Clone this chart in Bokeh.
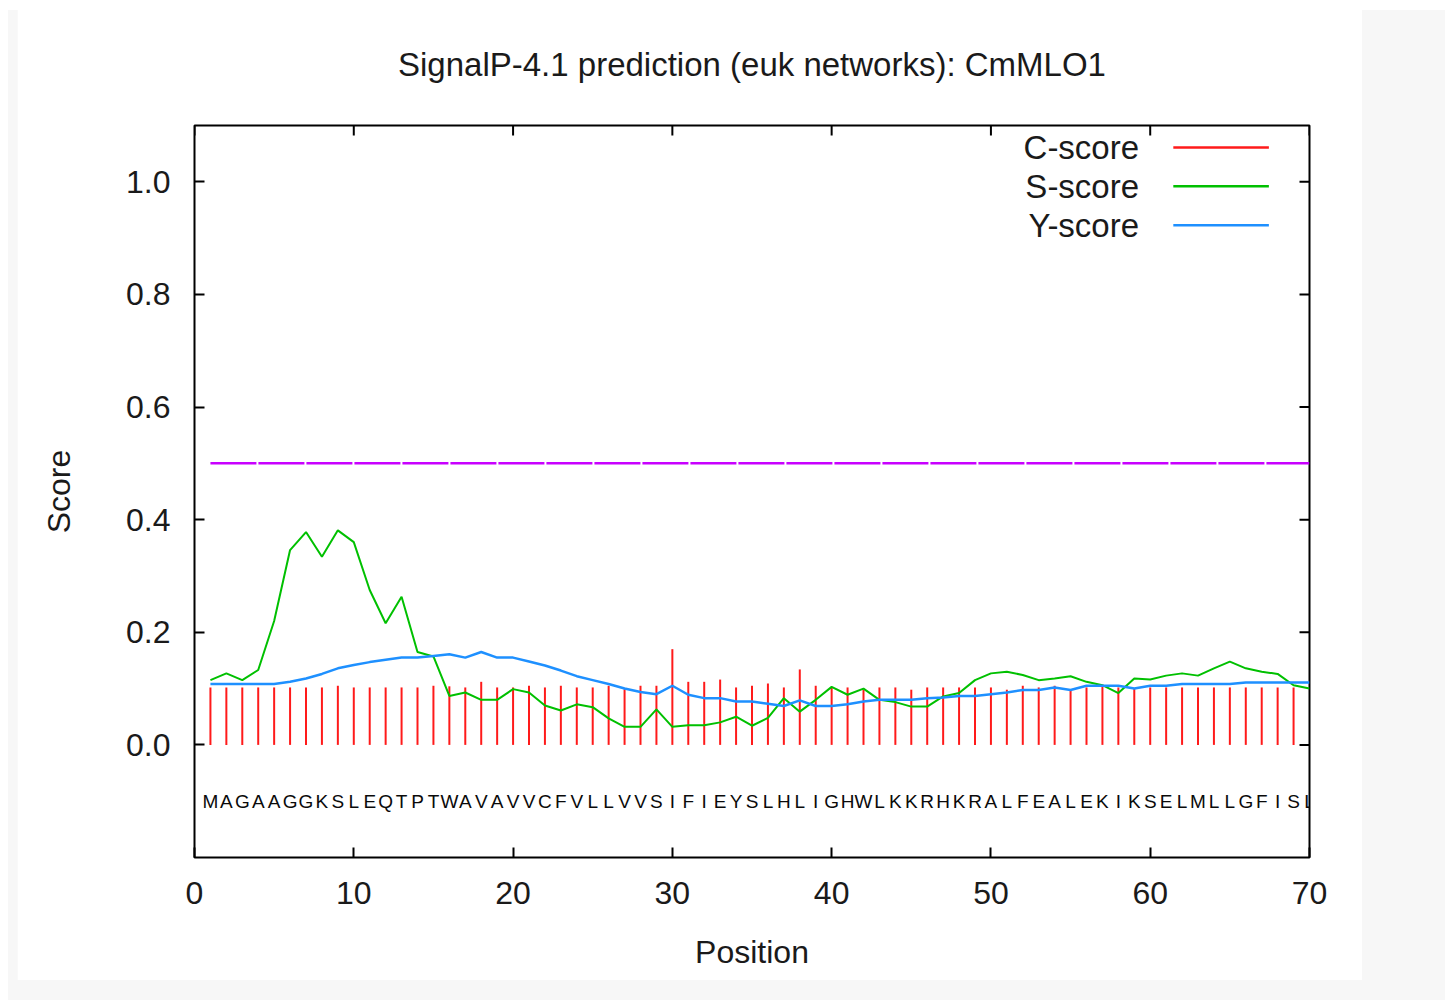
from bokeh.plotting import figure
from bokeh.models import LinearAxis, FixedTicker, PrintfTickFormatter, Range1d
from bokeh.embed import file_html
from bokeh.resources import INLINE

# ---------------- data ----------------
sequence = "MAGAAGGKSLEQTPTWAVAVVCFVLLVVSIFIEYSLHLIGHWLKKRHKRALFEALEKIKSELMLLGFISL"
positions = list(range(1, 71))

# C-score impulses (position 70 is hidden behind the frame in the reference)
c_score = [0.102, 0.102, 0.102, 0.102, 0.102, 0.102, 0.102, 0.102, 0.105, 0.102,
           0.102, 0.102, 0.102, 0.102, 0.105, 0.104, 0.102, 0.112, 0.102, 0.102,
           0.105, 0.102, 0.105, 0.102, 0.102, 0.105, 0.099, 0.105, 0.105, 0.170,
           0.112, 0.112, 0.116, 0.102, 0.105, 0.109, 0.102, 0.134, 0.105, 0.102,
           0.102, 0.098, 0.102, 0.102, 0.098, 0.102, 0.102, 0.102, 0.102, 0.102,
           0.098, 0.105, 0.102, 0.105, 0.096, 0.102, 0.105, 0.102, 0.100, 0.102,
           0.102, 0.102, 0.102, 0.102, 0.102, 0.102, 0.102, 0.102, 0.102]

s_score = [0.115, 0.127, 0.115, 0.133, 0.220, 0.346, 0.378, 0.334, 0.381, 0.360,
           0.275, 0.216, 0.263, 0.165, 0.157, 0.087, 0.093, 0.080, 0.080, 0.099,
           0.093, 0.070, 0.061, 0.072, 0.067, 0.047, 0.032, 0.032, 0.063, 0.032,
           0.035, 0.035, 0.040, 0.050, 0.034, 0.048, 0.083, 0.059, 0.080, 0.103,
           0.089, 0.100, 0.080, 0.076, 0.068, 0.068, 0.086, 0.092, 0.115, 0.127,
           0.130, 0.124, 0.115, 0.118, 0.122, 0.112, 0.106, 0.092, 0.118, 0.116,
           0.123, 0.127, 0.123, 0.136, 0.148, 0.136, 0.130, 0.126, 0.106, 0.100]

y_score = [0.108, 0.108, 0.108, 0.108, 0.108, 0.112, 0.118, 0.126, 0.136, 0.142,
           0.147, 0.151, 0.155, 0.155, 0.158, 0.161, 0.155, 0.165, 0.155, 0.155,
           0.148, 0.141, 0.132, 0.122, 0.115, 0.108, 0.100, 0.094, 0.090, 0.105,
           0.089, 0.083, 0.083, 0.077, 0.077, 0.073, 0.069, 0.079, 0.069, 0.069,
           0.072, 0.077, 0.080, 0.080, 0.080, 0.083, 0.084, 0.087, 0.087, 0.090,
           0.093, 0.0975, 0.0975, 0.102, 0.0975, 0.105, 0.105, 0.105, 0.100, 0.105,
           0.105, 0.108, 0.108, 0.108, 0.108, 0.111, 0.111, 0.111, 0.111, 0.111]

threshold = 0.5
y_ticks = [0.0, 0.2, 0.4, 0.6, 0.8, 1.0]
x_ticks = [0, 10, 20, 30, 40, 50, 60, 70]
legend_labels = ["C-score", "S-score", "Y-score"]

# ---------------- style / layout ----------------
FONT = "Liberation Sans"
TXT = "#1a1a1a"
RED = "#ff1a1a"
GREEN = "#00c000"
BLUE = "#1e90ff"
PURPLE = "#c800ff"

X0, X1 = 0, 70
Y0, Y1 = -0.2, 1.1
FRAME_W, FRAME_H = 1115, 732
TICK_PX = 10
TICK_DX = TICK_PX * (X1 - X0) / FRAME_W
TICK_DY = TICK_PX * (Y1 - Y0) / FRAME_H

SEQ_Y = -0.101
LEG_TEXT_X = 59.3
LEG_LINE_X0, LEG_LINE_X1 = 61.45, 67.45
LEG_YS = [1.061, 0.992, 0.923]

p = figure(output_backend="svg", toolbar_location=None,
           frame_width=FRAME_W, frame_height=FRAME_H,
           min_border_left=177, min_border_right=53,
           min_border_top=125, min_border_bottom=123,
           x_range=Range1d(X0, X1), y_range=Range1d(Y0, Y1),
           x_axis_location=None, y_axis_location=None,
           title="SignalP-4.1 prediction (euk networks): CmMLO1")
p.background_fill_color = "white"
p.border_fill_color = "white"
p.outline_line_color = "black"
p.outline_line_width = 2
p.xgrid.visible = False
p.ygrid.visible = False

p.title.text_font = FONT
p.title.text_font_size = "33px"
p.title.text_font_style = "normal"
p.title.text_color = TXT
p.title.align = "center"
p.title.standoff = 85


def style_axis(ax):
    ax.axis_line_color = None
    ax.major_tick_in = TICK_PX
    ax.major_tick_out = 0
    ax.major_tick_line_color = "black"
    ax.major_tick_line_width = 2
    ax.minor_tick_line_color = None
    ax.major_label_text_font = FONT
    ax.major_label_text_font_size = "32px"
    ax.major_label_text_color = TXT
    ax.axis_label_text_font = FONT
    ax.axis_label_text_font_size = "32px"
    ax.axis_label_text_font_style = "normal"
    ax.axis_label_text_color = TXT


left = LinearAxis(ticker=FixedTicker(ticks=y_ticks),
                  formatter=PrintfTickFormatter(format="%.1f"), axis_label="Score")
style_axis(left)
left.major_label_standoff = 24
left.axis_label_standoff = 46
p.add_layout(left, "left")

below = LinearAxis(ticker=FixedTicker(ticks=x_ticks), axis_label="Position")
style_axis(below)
below.major_label_standoff = 24
below.axis_label_standoff = 27
p.add_layout(below, "below")

# mirrored inward ticks on the right and top edges (no labels)
p.segment(x0=[X1] * len(y_ticks), y0=y_ticks, x1=[X1 - TICK_DX] * len(y_ticks), y1=y_ticks,
          line_color="black", line_width=2)
p.segment(x0=x_ticks, y0=[Y1] * len(x_ticks), x1=x_ticks, y1=[Y1 - TICK_DY] * len(x_ticks),
          line_color="black", line_width=2)

# threshold line
p.line(x=[positions[0], positions[-1]], y=[threshold, threshold],
       line_color=PURPLE, line_width=2.5, line_dash="46 2")

# C-score impulses
c_pos = positions[:len(c_score)]
p.segment(x0=c_pos, y0=[0] * len(c_pos), x1=c_pos, y1=c_score,
          line_color=RED, line_width=2)
# S-score and Y-score
p.line(x=positions, y=s_score, line_color=GREEN, line_width=2)
p.line(x=positions, y=y_score, line_color=BLUE, line_width=2.5)

# sequence letters
p.text(x=positions, y=[SEQ_Y] * len(positions), text=list(sequence),
       text_align="center", text_baseline="middle",
       text_font={"value": FONT}, text_font_size={"value": "19px"},
       text_color="#0a0a0a")

# legend (gnuplot style: label then sample line)
p.text(x=[LEG_TEXT_X] * 3, y=LEG_YS, text=legend_labels,
       text_align="right", text_baseline="middle",
       text_font={"value": FONT}, text_font_size={"value": "33px"},
       text_color=TXT)
for yy, col in zip(LEG_YS, [RED, GREEN, BLUE]):
    p.line(x=[LEG_LINE_X0, LEG_LINE_X1], y=[yy, yy], line_color=col, line_width=2.5)

css = ("<style>html,body{margin:0;padding:0;}"
       "body{padding:0 0 0 17px;"
       "background:linear-gradient(#f7f7f7,#f7f7f7) 8px 10px/4000px 4000px no-repeat,#ffffff;}"
       "</style>")
html = file_html(p, INLINE)
html = html.replace("</head>", css + "</head>", 1)
open("out.html", "w").write(html)
